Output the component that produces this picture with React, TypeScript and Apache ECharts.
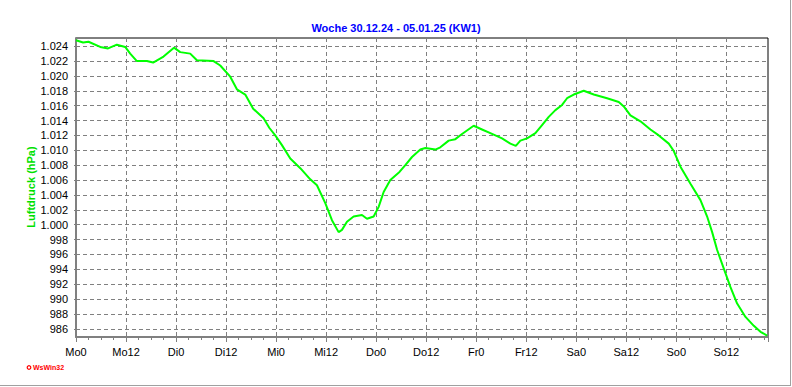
import React, { useEffect, useRef } from "react";
import * as echarts from "echarts";

const chartTitle = "Woche 30.12.24 - 05.01.25 (KW1)";
const yAxisTitle = "Luftdruck (hPa)";
const logoText = "WsWin32";
const dayNames = ["Mo", "Di", "Mi", "Do", "Fr", "Sa", "So"];
const yTickValues = [986, 988, 990, 992, 994, 996, 998, 1000, 1002, 1004, 1006, 1008, 1010, 1012, 1014, 1016, 1018, 1020, 1022, 1024];

// hours since Monday 0:00
const hours = [
  0, 1.7, 3, 5.8, 7.7, 9.8, 11.8, 13, 14.6, 17, 18.5, 21, 23.5, 25, 27.4, 29, 33, 34.6, 37, 38.6,
  40.6, 42.5, 45, 46.4, 47.8, 49.4, 51.4, 53.8, 56.2, 57.8, 59.8, 61.4, 63, 63.8, 65, 66.6, 68.6, 69.8,
  71.4, 72.6, 73.8, 75.4, 77.6, 79, 80.6, 82.6, 83.8, 86.2, 87.4, 89.4, 91, 92.6, 95.4, 97.4, 99.8,
  102.2, 104.2, 105.5, 106.6, 108.2, 110.2, 111.8, 113.4, 115, 116.6, 117.8, 119.4, 121.8, 124.2,
  127.4, 130.2, 131.4, 133, 135.4, 137.8, 139.8, 142.2, 143.4, 145, 147.4, 149.8, 151.4, 152.6,
  153.8, 155.4, 157, 158.6, 160.6, 162.6, 164.2, 165.8,
];
// pressure in hPa
const pressure = [
  1024.8, 1024.5, 1024.6, 1023.9, 1023.7, 1024.2, 1023.9, 1023.0, 1022.0, 1022.0, 1021.8, 1022.6, 1023.8,
  1023.2, 1023.0, 1022.1, 1022.0, 1021.4, 1019.9, 1018.2, 1017.5, 1015.6, 1014.3, 1013.0, 1012.0,
  1010.7, 1008.9, 1007.6, 1006.1, 1005.3, 1002.9, 1000.6, 999.0, 999.3, 1000.4, 1001.1, 1001.3,
  1000.8, 1001.1, 1002.4, 1004.4, 1006.0, 1007.1, 1008.0, 1009.1, 1010.1, 1010.3, 1010.1, 1010.4,
  1011.3, 1011.5, 1012.2, 1013.3, 1012.8, 1012.2, 1011.6, 1010.9, 1010.6, 1011.3, 1011.6, 1012.3,
  1013.4, 1014.5, 1015.4, 1016.1, 1017.0, 1017.5, 1018.0, 1017.5, 1017.0, 1016.5, 1015.9, 1014.7,
  1013.9, 1012.8, 1012.0, 1010.9, 1009.9, 1007.8, 1005.5, 1003.3, 1001.1, 999.0, 996.6, 994.1,
  991.6, 989.4, 987.6, 986.4, 985.6, 985.1,
];

const FONT = '"Liberation Sans", Arial, sans-serif';

function fmtY(v: number): string {
  const r = Math.round(v);
  return r >= 1000 ? "1." + String(r - 1000).padStart(3, "0") : String(r);
}

function fmtX(v: number): string {
  const d = Math.floor(v / 24);
  return (dayNames[d] ?? "") + String(Math.round(v - d * 24));
}

export default function App() {
  const ref = useRef<HTMLDivElement>(null);
  useEffect(() => {
    if (!ref.current) return;
    const chart = echarts.init(ref.current, undefined, { renderer: "svg" });
    const gridLine = { color: "#808080", width: 1, type: [4, 3] as number[] };
    chart.setOption({
      animation: false,
      backgroundColor: "#ffffff",
      title: {
        text: chartTitle,
        left: "center",
        top: 17,
        textStyle: { color: "#0000ff", fontSize: 11, fontWeight: "bold", fontFamily: FONT },
      },
      grid: {
        left: 76,
        right: 24,
        top: 38,
        bottom: 50,
        show: true,
        borderColor: "#000000",
        borderWidth: 1,
        backgroundColor: "transparent",
      },
      xAxis: {
        type: "value",
        min: 0,
        max: 166,
        interval: 12,
        axisLine: { show: true, onZero: false, lineStyle: { color: "#808080", width: 2 } },
        axisTick: { show: true, length: 5, lineStyle: { color: "#808080" } },
        minorTick: { show: true, splitNumber: 4, length: 3, lineStyle: { color: "#808080" } },
        axisLabel: {
          formatter: fmtX,
          color: "#000000",
          fontSize: 11,
          fontFamily: FONT,
          margin: 9,
          showMaxLabel: false,
        },
        splitLine: { show: true, lineStyle: gridLine },
      },
      yAxis: {
        type: "value",
        min: 984.9,
        max: 1025.1,
        axisLine: { show: true, onZero: false, lineStyle: { color: "#808080", width: 2 } },
        axisTick: { show: true, length: 2, customValues: yTickValues, lineStyle: { color: "#808080" } },
        axisLabel: {
          customValues: yTickValues,
          formatter: fmtY,
          color: "#000000",
          fontSize: 11,
          fontFamily: FONT,
          margin: 8,
        },
        splitLine: { show: true, lineStyle: gridLine },
      },
      series: [
        {
          type: "line",
          data: hours.map((h, i) => [h, pressure[i]]),
          showSymbol: false,
          silent: true,
          lineStyle: { color: "#00ff00", width: 2 },
        },
      ],
      graphic: [
        {
          type: "text",
          x: 31,
          y: 187,
          rotation: Math.PI / 2,
          style: {
            text: yAxisTitle,
            fill: "#00e000",
            font: `bold 11px ${FONT}`,
            align: "center",
            verticalAlign: "middle",
            textAlign: "center",
            textVerticalAlign: "middle",
          },
        },
        {
          type: "circle",
          shape: { cx: 29, cy: 367.5, r: 1.8 },
          style: { fill: "#ffffff", stroke: "#ff0000", lineWidth: 1.2 },
        },
        {
          type: "text",
          x: 33,
          y: 367.5,
          style: {
            text: logoText,
            fill: "#ff0000",
            font: `bold 7px ${FONT}`,
            verticalAlign: "middle",
            textVerticalAlign: "middle",
          },
        },
        {
          type: "line",
          shape: { x1: 790.5, y1: 0, x2: 790.5, y2: 386 },
          style: { stroke: "#a0a0a0", lineWidth: 1 },
        },
        {
          type: "line",
          shape: { x1: 0, y1: 385.5, x2: 791, y2: 385.5 },
          style: { stroke: "#a0a0a0", lineWidth: 1 },
        },
      ],
    });
    return () => chart.dispose();
  }, []);
  return (
    <div
      ref={ref}
      style={{ position: "absolute", left: 0, top: 0, width: 792, height: 387 }}
    />
  );
}
